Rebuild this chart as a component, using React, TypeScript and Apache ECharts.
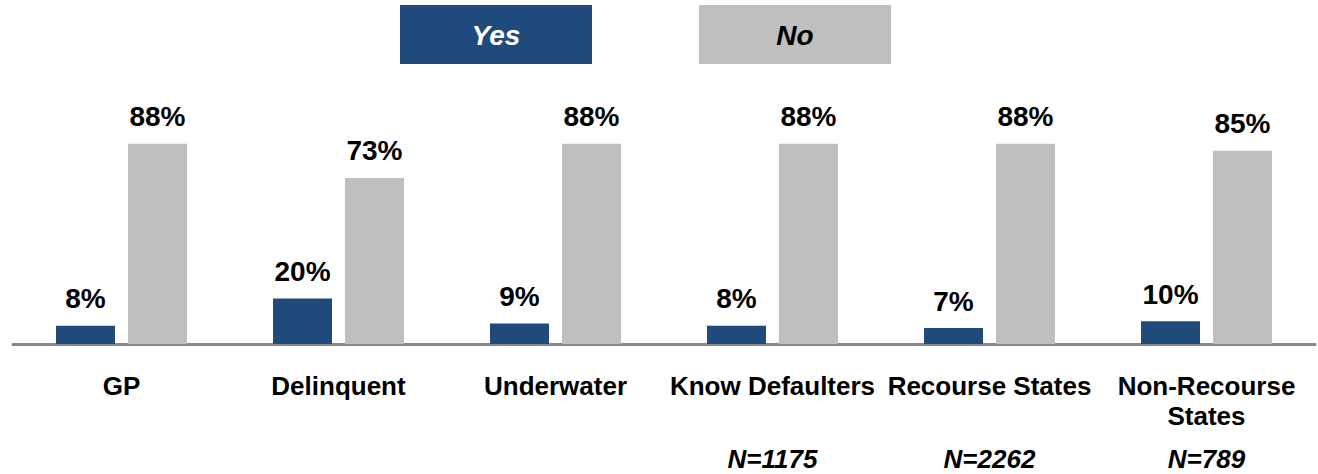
import React, { useEffect, useRef } from "react";
import * as echarts from "echarts";

const categories = ["GP", "Delinquent", "Underwater", "Know Defaulters", "Recourse States", "Non-Recourse\nStates"];
const yesValues = [8, 20, 9, 8, 7, 10];
const noValues = [88, 73, 88, 88, 88, 85];
const nLabels = ["", "", "", "N=1175", "N=2262", "N=789"];
const legendNames = ["Yes", "No"];

const YES_COLOR = "#204A7B";
const NO_COLOR = "#BFBFBF";
const FONT = "'Liberation Sans', Arial, sans-serif";

export default function App() {
  const ref = useRef<HTMLDivElement>(null);
  useEffect(() => {
    if (!ref.current) return;
    const chart = echarts.init(ref.current, undefined, { renderer: "svg" });
    const labelStyle = {
      show: true,
      position: "top" as const,
      distance: 13,
      formatter: "{c}%",
      fontFamily: FONT,
      fontWeight: "bold" as const,
      fontSize: 28,
      color: "#000",
    };
    chart.setOption({
      animation: false,
      backgroundColor: "#fff",
      grid: { left: 13, right: 3, top: 116.5, bottom: 127.5, containLabel: false },
      xAxis: [
        {
          type: "category",
          data: categories,
          axisLine: { show: true, lineStyle: { color: "#888888", width: 3 } },
          axisTick: { show: false },
          axisLabel: {
            interval: 0,
            margin: 27,
            fontFamily: FONT,
            fontWeight: "bold",
            fontSize: 26,
            lineHeight: 30,
            color: "#000",
            verticalAlign: "top",
          },
        },
        {
          type: "category",
          position: "bottom",
          data: nLabels,
          axisLine: { show: false },
          axisTick: { show: false },
          axisLabel: {
            interval: 0,
            margin: 100,
            fontFamily: FONT,
            fontWeight: "bold",
            fontStyle: "italic",
            fontSize: 26,
            lineHeight: 30,
            color: "#000",
            verticalAlign: "top",
          },
        },
      ],
      yAxis: {
        type: "value",
        min: 0,
        max: 100,
        show: false,
        splitLine: { show: false },
      },
      series: [
        {
          name: legendNames[0],
          type: "bar",
          data: yesValues,
          barWidth: 59,
          barGap: "22%",
          itemStyle: { color: YES_COLOR },
          label: labelStyle,
        },
        {
          name: legendNames[1],
          type: "bar",
          data: noValues,
          barWidth: 59,
          barGap: "22%",
          itemStyle: { color: NO_COLOR },
          label: labelStyle,
        },
      ],
      graphic: [
        {
          type: "group",
          left: 400,
          top: 5,
          children: [
            { type: "rect", shape: { x: 0, y: 0, width: 192, height: 59 }, style: { fill: YES_COLOR } },
            {
              type: "text",
              x: 96,
              y: 30,
              style: {
                text: legendNames[0],
                fill: "#fff",
                font: `italic bold 28px ${FONT}`,
                align: "center",
                verticalAlign: "middle",
              },
            },
          ],
        },
        {
          type: "group",
          left: 699,
          top: 5,
          children: [
            { type: "rect", shape: { x: 0, y: 0, width: 192, height: 59 }, style: { fill: NO_COLOR } },
            {
              type: "text",
              x: 96,
              y: 30,
              style: {
                text: legendNames[1],
                fill: "#000",
                font: `italic bold 28px ${FONT}`,
                align: "center",
                verticalAlign: "middle",
              },
            },
          ],
        },
      ],
    });
    return () => chart.dispose();
  }, []);
  return (
    <div
      ref={ref}
      style={{ position: "fixed", left: 0, top: 0, width: 1318, height: 474, background: "#fff" }}
    />
  );
}
